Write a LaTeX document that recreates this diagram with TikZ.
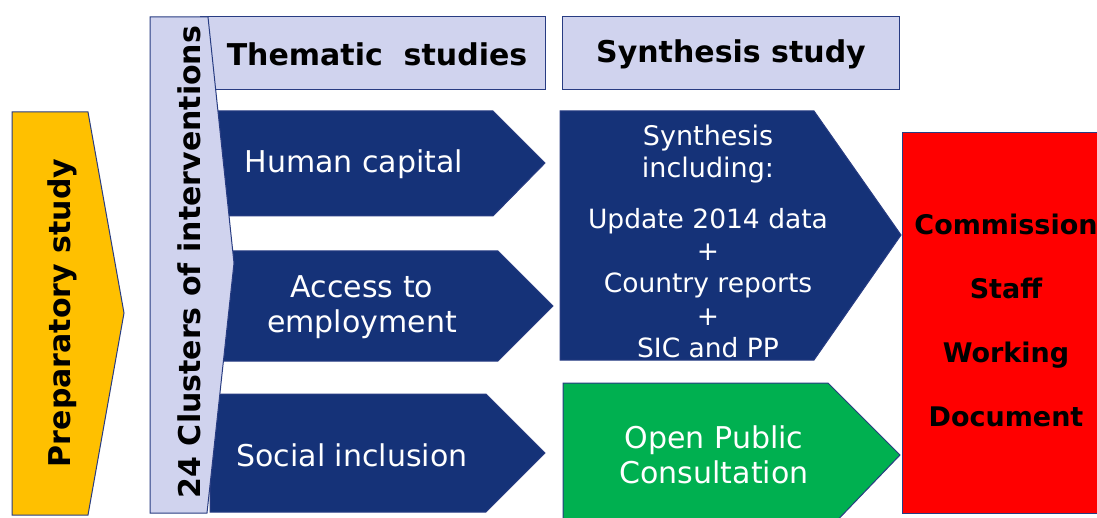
\documentclass[tikz,border=0pt]{standalone}
\usepackage{fontspec}
\setmainfont{DejaVu Sans}
\definecolor{navy}{RGB}{21,50,120}
\definecolor{edge}{RGB}{40,60,130}
\definecolor{lav}{RGB}{208,211,238}
\definecolor{gold}{RGB}{255,192,0}
\definecolor{grn}{RGB}{0,176,80}
\definecolor{rd}{RGB}{255,0,0}
\tikzset{
  shapeline/.style={draw=edge, line width=1pt, line join=miter},
  wtxt/.style={text=white, align=center, inner sep=0pt, font=\fontsize{30}{35}\selectfont},
  btxt/.style={text=black, align=center, inner sep=0pt, font=\bfseries\fontsize{30}{36}\selectfont},
}
\begin{document}
\begin{tikzpicture}[x=1pt,y=-1pt]
\useasboundingbox (0,0) rectangle (1097,518);
\clip (0,0) rectangle (1097,518);
% headers
\path[shapeline, fill=lav] (200,17) rectangle (545,90);
\path[shapeline, fill=lav] (562,17) rectangle (899,90);
% blue chevrons
\path[shapeline, fill=navy] (215,111) -- (493,111) -- (545,163) -- (493,216) -- (215,216) -- cycle;
\path[shapeline, fill=navy] (215,251) -- (498,251) -- (553,306) -- (498,361) -- (215,361) -- cycle;
\path[shapeline, fill=navy] (210,394) -- (486,394) -- (545,453) -- (486,512) -- (210,512) -- cycle;
% synthesis chevron
\path[shapeline, fill=navy] (560,111) -- (814,111) -- (901,235) -- (814,360) -- (560,360) -- cycle;
% green chevron
\path[shapeline, fill=grn] (563,383) -- (828,383) -- (900,455) -- (828,530) -- (563,530) -- cycle;
% red box
\path[shapeline, fill=rd] (902,133) rectangle (1110,513);
% yellow chevron
\path[shapeline, fill=gold] (12,112) -- (88,112) -- (124,313) -- (88,515) -- (12,515) -- cycle;
% lavender bar
\path[shapeline, fill=lav] (150,17) -- (208,17) -- (234,263) -- (207,513) -- (150,513) -- cycle;
% texts
\node[btxt, rotate=90] (prep) at (62,313) {Preparatory study};
\node[btxt, rotate=90] (clus) at (189,262) {24 Clusters of interventions};
\node[btxt] (them) at (377,54) {Thematic\ \ studies};
\node[btxt] (synh) at (731,54) {Synthesis study};
\node[wtxt] (hum) at (354,164) {Human capital};
\node[wtxt] (acc) at (362,307) {Access to\\employment};
\node[wtxt] (soc) at (352,455) {Social inclusion};
\node[wtxt, font=\fontsize{27}{32}\selectfont] (syn1) at (708,154) {Synthesis\\including:};
\node[wtxt, font=\fontsize{26.5}{32.3}\selectfont] (syn2) at (708,283) {Update 2014 data\\+\\Country reports\\+\\SIC and PP};
\node[wtxt] (opc) at (714,455) {Open Public\\Consultation};
\node[btxt, font=\bfseries\fontsize{27}{64}\selectfont] (swd) at (1006,320) {Commission\\Staff\\Working\\Document};
\end{tikzpicture}
\end{document}
